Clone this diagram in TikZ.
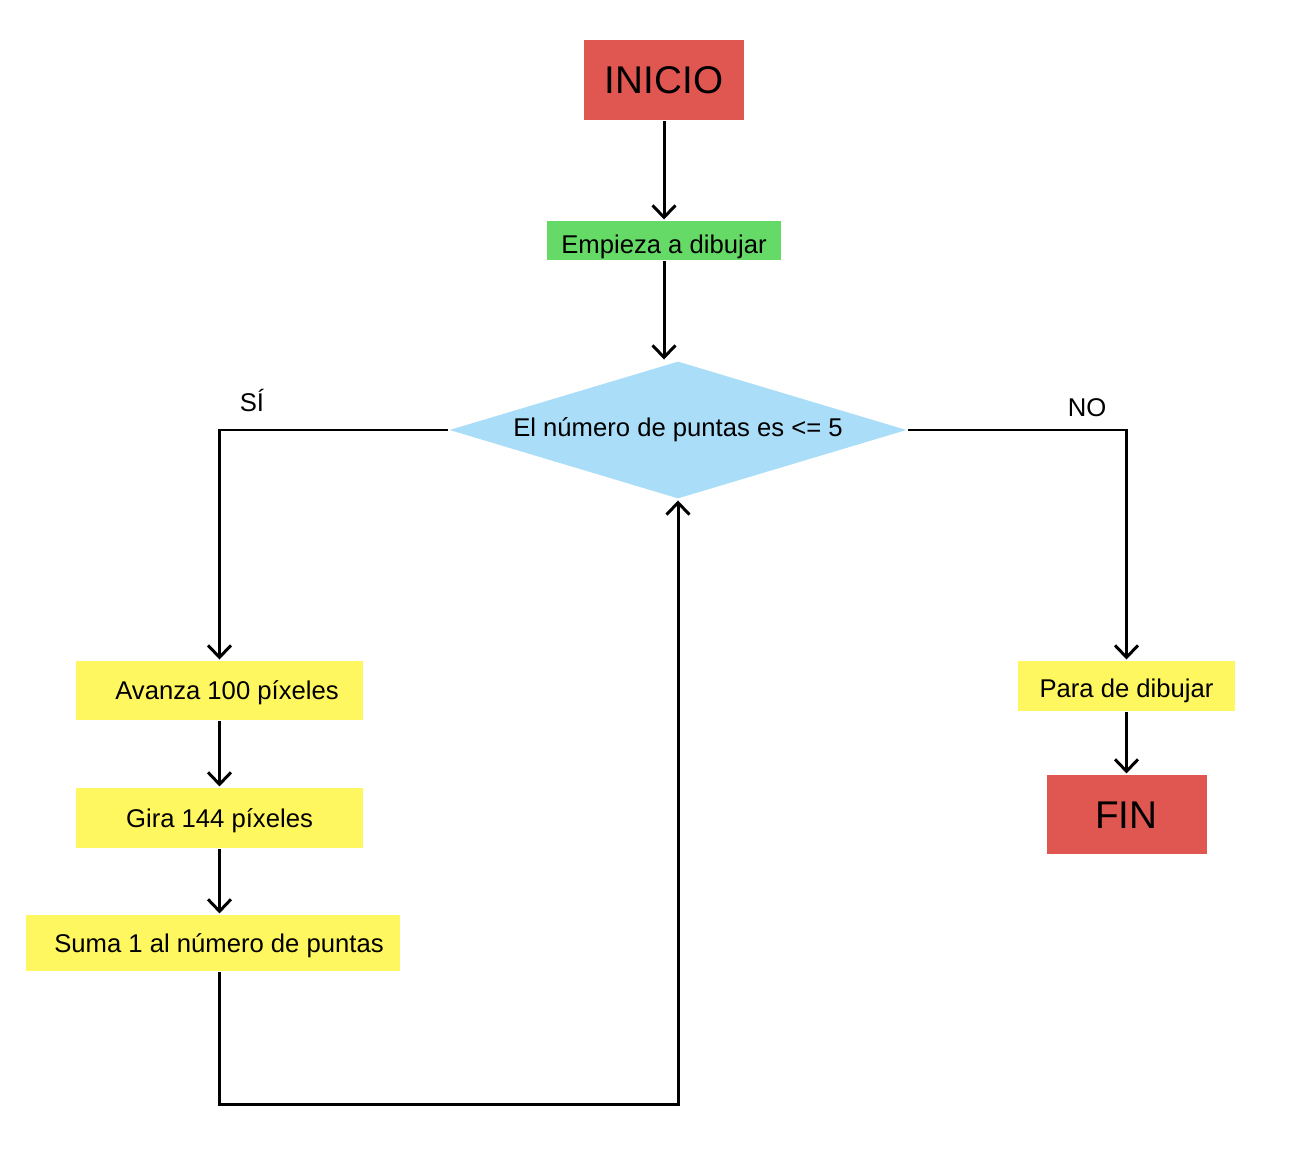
\documentclass[tikz,border=0pt]{standalone}
\usepackage{fontspec}
\setmainfont{Liberation Sans}
\usepackage{tikz}
\usetikzlibrary{positioning,shapes.geometric,arrows.meta}
\definecolor{rojo}{HTML}{E05752}
\definecolor{verde}{HTML}{66DA66}
\definecolor{amarillo}{HTML}{FFF75F}
\definecolor{celeste}{HTML}{AADDF8}
\tikzstyle{terminal}=[rectangle, fill=rojo, text=black, inner sep=0, minimum width=3.2cm, minimum height=1.6cm, text height=0.56cm, text depth=0, font=\fontsize{22}{26}\selectfont]
\tikzstyle{paso}=[rectangle, fill=amarillo, text=black, inner sep=0, text height=0.37cm, text depth=0, font=\fontsize{14.6}{17}\selectfont]
\tikzstyle{decision}=[diamond, fill=celeste, text=black, inner sep=0, minimum width=9.16cm, minimum height=2.76cm, font=\fontsize{14.6}{17}\selectfont]
\tikzstyle{etiqueta}=[text=black, inner sep=0, font=\fontsize{14.6}{17}\selectfont]
\tikzset{>={Straight Barb[length=0.24cm, width=0.46cm]}}

\begin{document}
\begin{tikzpicture}[x=0.02cm, y=-0.02cm, line width=1.7pt]

        \useasboundingbox (0,0) rectangle (1308,1165);

        \node (inicio)[terminal] at (664,80) {INICIO};
        \node (empieza)[paso, fill=verde, minimum width=4.68cm, minimum height=0.78cm, text height=0.53cm] at (664,240.5) {Empieza a dibujar};
        \node (decision)[decision] at (678,430) {\makebox[0pt]{El número de puntas es <= 5}};

        % rama del si
        \node (avanza)[paso, minimum width=5.74cm, minimum height=1.18cm] at (219.5,690.5) {\hspace{0.3cm}Avanza 100 píxeles};
        \node (gira)[paso, minimum width=5.74cm, minimum height=1.2cm, below=1.30cm of avanza] {Gira 144 píxeles};
        \node (suma)[paso, minimum width=7.48cm, minimum height=1.12cm, below=1.28cm of gira, xshift=-0.13cm] {\hspace{0.24cm}Suma 1 al número de puntas};

        % rama del no
        \node (para)[paso, minimum width=4.34cm, minimum height=1cm, text height=0.45cm] at (1126.5,686) {Para de dibujar};
        \node (fin)[terminal, minimum height=1.58cm, below=1.22cm of para] {FIN};

        \node (si)[etiqueta] at (252,401) {SÍ};
        \node (no)[etiqueta] at (1087,408) {NO};

        \draw [->] (inicio) -- (empieza);
        \draw [->] (empieza.south) -- (empieza.south |- decision.north);
        \draw [->] (decision.west) -| (avanza.north);
        \draw [->] (avanza) -- (gira);
        \draw [->] (gira.south) -- (gira.south |- suma.north);

        \coordinate (retorno) at (219.5,1104);
        \draw [->] (gira.south |- suma.south) -- (retorno) -| (decision.south);

        \draw [->] (decision.east) -| (para.north);
        \draw [->] (para) -- (fin);

    \end{tikzpicture}
\end{document}
